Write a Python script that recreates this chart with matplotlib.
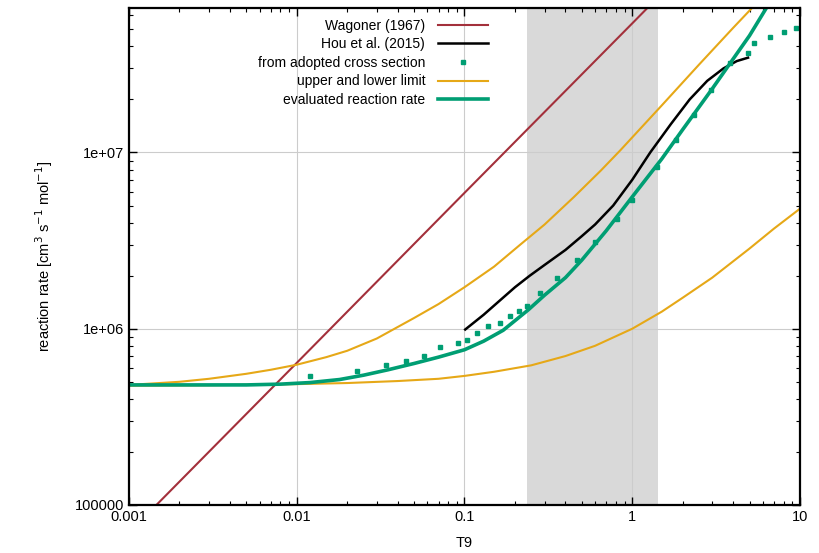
import matplotlib
matplotlib.use('Agg')
import matplotlib.pyplot as plt
from matplotlib.ticker import NullFormatter, LogLocator

plt.rcParams['font.family'] = ['Liberation Sans', 'DejaVu Sans']

# Wagoner (1967)
wag_t9 = [0.001, 0.01, 0.1, 1.0, 10.0]
wag_rate = [6.96e4, 6.4e5, 5.9e6, 5.4e7, 5.0e8]

# Hou et al. (2015)
hou_t9 = [0.101, 0.13, 0.163, 0.2, 0.245, 0.3, 0.4, 0.5, 0.6, 0.77, 1.0, 1.28,
          1.7, 2.2, 2.8, 3.5, 4.2, 4.9]
hou_rate = [9.9e5, 1.2e6, 1.45e6, 1.72e6, 2.0e6, 2.3e6, 2.8e6, 3.35e6, 3.9e6, 5.0e6,
            7.0e6, 1.0e7, 1.45e7, 2.0e7, 2.55e7, 3.0e7, 3.3e7, 3.45e7]

# from adopted cross section (squares)
cs_t9 = [0.012, 0.023, 0.034, 0.045, 0.057, 0.071, 0.092, 0.103, 0.118, 0.139,
         0.163, 0.187, 0.21, 0.235, 0.28, 0.355, 0.466, 0.6, 0.81, 1.0, 1.4,
         1.83, 2.32, 2.95, 3.8, 4.9, 5.3, 6.6, 8.0, 9.5]
cs_rate = [5.4e5, 5.75e5, 6.2e5, 6.6e5, 7.0e5, 7.9e5, 8.3e5, 8.6e5, 9.5e5, 1.03e6,
           1.08e6, 1.18e6, 1.26e6, 1.34e6, 1.6e6, 1.95e6, 2.47e6, 3.1e6, 4.2e6, 5.4e6, 8.3e6,
           1.18e7, 1.63e7, 2.26e7, 3.2e7, 3.65e7, 4.17e7, 4.5e7, 4.8e7, 5.1e7]

# upper and lower limit
up_t9 = [0.001, 0.002, 0.003, 0.005, 0.007, 0.01, 0.015, 0.02, 0.03, 0.05, 0.07,
         0.1, 0.15, 0.215, 0.3, 0.45, 0.65, 0.85, 1.5, 2.5, 4.0, 5.25, 7.0]
up_rate = [4.8e5, 5.0e5, 5.2e5, 5.55e5, 5.85e5, 6.25e5, 6.9e5, 7.5e5, 8.8e5, 1.15e6, 1.38e6,
           1.72e6, 2.25e6, 3.0e6, 3.9e6, 5.6e6, 7.9e6, 1.03e7, 1.85e7, 3.15e7, 5.1e7, 6.7e7, 9.0e7]
lo_t9 = [0.001, 0.003, 0.01, 0.02, 0.04, 0.07, 0.1, 0.15, 0.25, 0.4, 0.6, 1.0,
         1.5, 2.0, 3.0, 5.0, 7.0, 10.0]
lo_rate = [4.75e5, 4.78e5, 4.85e5, 4.92e5, 5.05e5, 5.2e5, 5.4e5, 5.7e5, 6.2e5, 7.0e5,
           8.0e5, 1.0e6, 1.25e6, 1.5e6, 1.95e6, 2.85e6, 3.7e6, 4.8e6]

# evaluated reaction rate
ev_t9 = [0.001, 0.005, 0.008, 0.012, 0.018, 0.025, 0.035, 0.05, 0.07, 0.1, 0.13,
         0.17, 0.24, 0.3, 0.4, 0.5, 0.7, 1.0, 1.5, 2.0, 3.0, 4.0, 5.0, 6.3, 8.0]
ev_rate = [4.8e5, 4.8e5, 4.85e5, 4.95e5, 5.15e5, 5.45e5, 5.85e5, 6.35e5, 6.9e5, 7.6e5, 8.5e5,
           9.8e5, 1.28e6, 1.55e6, 1.95e6, 2.45e6, 3.6e6, 5.6e6, 9.2e6, 1.35e7, 2.3e7, 3.4e7,
           4.6e7, 6.6e7, 9.5e7]

# shaded temperature window
band = (0.235, 1.42)

fig = plt.figure(figsize=(8.19, 5.53), dpi=100)
ax = fig.add_axes([0.1575, 0.0868, 0.8193, 0.8987])

ax.axvspan(band[0], band[1], color='#d9d9d9', lw=0, zorder=0)
ax.plot(wag_t9, wag_rate, color='#a3303b', lw=1.5, label='Wagoner (1967)')
ax.plot(hou_t9, hou_rate, color='black', lw=1.8, label='Hou et al. (2015)')
ax.plot(cs_t9, cs_rate, ls='none', marker='s', ms=3.5, color='#009e73',
        label='from adopted cross section')
ax.plot(up_t9, up_rate, color='#e6a817', lw=1.5, label='upper and lower limit')
ax.plot(lo_t9, lo_rate, color='#e6a817', lw=1.5)
ax.plot(ev_t9, ev_rate, color='#009e73', lw=2.6, label='evaluated reaction rate')

ax.set_xscale('log')
ax.set_yscale('log')
ax.set_xlim(0.001, 10)
ax.set_ylim(1e5, 6.6e7)

ax.set_xticks([0.001, 0.01, 0.1, 1, 10])
ax.set_xticklabels(['0.001', '0.01', '0.1', '1', '10'])
ax.set_yticks([1e5, 1e6, 1e7])
ax.set_yticklabels(['100000', '1e+06', '1e+07'])
ax.xaxis.set_minor_locator(LogLocator(base=10, subs=range(2, 10)))
ax.yaxis.set_minor_locator(LogLocator(base=10, subs=range(2, 10)))
ax.xaxis.set_minor_formatter(NullFormatter())
ax.yaxis.set_minor_formatter(NullFormatter())
ax.tick_params(which='both', direction='in', top=True, right=True, labelsize=10.5)
ax.tick_params(which='major', length=6, width=1)
ax.tick_params(which='minor', length=3, width=0.8)
ax.grid(True, which='major', color='#cccccc', lw=0.8)
ax.set_axisbelow(True)
for s in ax.spines.values():
    s.set_linewidth(1.6)

ax.set_xlabel('T9', fontsize=10.5, labelpad=9)
ax.set_ylabel('reaction rate [cm$^3$ s$^{-1}$ mol$^{-1}$]', fontsize=10.5, labelpad=14)

leg = ax.legend(loc='upper right', bbox_to_anchor=(0.549, 0.998), frameon=False,
                markerfirst=False, fontsize=10, handlelength=3.6,
                labelspacing=0.33, handletextpad=0.9, borderaxespad=0.3)
for vp in leg._legend_box._children[-1]._children:
    vp.align = 'right'

fig.savefig('out.png', dpi=100)
